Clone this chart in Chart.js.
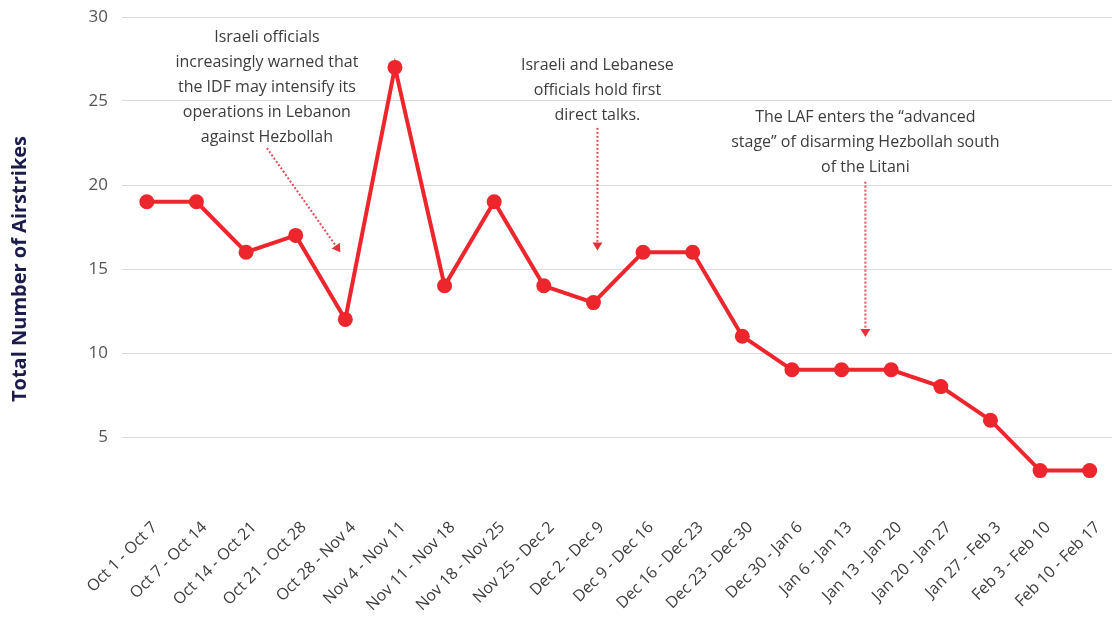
<!DOCTYPE html>
<html>
<head>
<meta charset="utf-8">
<script src="https://cdn.jsdelivr.net/npm/chart.js@4.4.1/dist/chart.umd.min.js"></script>
<style>
  html, body { margin: 0; padding: 0; background: #fff; overflow: hidden; }
  #wrap { position: relative; width: 1122px; height: 617px; }
</style>
</head>
<body>
<div id="wrap"><canvas id="airstrikesChart"></canvas></div>
<script>
// weekly airstrike counts
const weeks = [
  "Oct 1 - Oct 7", "Oct 7 - Oct 14", "Oct 14 - Oct 21", "Oct 21 - Oct 28",
  "Oct 28 - Nov 4", "Nov 4 - Nov 11", "Nov 11 - Nov 18", "Nov 18 - Nov 25",
  "Nov 25 - Dec 2", "Dec 2 - Dec 9", "Dec 9 - Dec 16", "Dec 16 - Dec 23",
  "Dec 23 - Dec 30", "Dec 30 - Jan 6", "Jan 6 - Jan 13", "Jan 13 - Jan 20",
  "Jan 20 - Jan 27", "Jan 27 - Feb 3", "Feb 3 - Feb 10", "Feb 10 - Feb 17"
];
const airstrikes = [19, 19, 16, 17, 12, 27, 14, 19, 14, 13, 16, 16, 11, 9, 9, 9, 8, 6, 3, 3];
const yTicks = [0, 5, 10, 15, 20, 25, 30];

const note1 = ["Israeli officials", "increasingly warned that", "the IDF may intensify its", "operations in Lebanon", "against Hezbollah"];
const note2 = ["Israeli and Lebanese", "officials hold first", "direct talks."];
const note3 = ["The LAF enters the \u201cadvanced", "stage\u201d of disarming Hezbollah south", "of the Litani"];

// where each note sits, in chart units (category index, airstrike count)
const notes = [
  { lines: note1, at: [2.42, 28.8], from: [2.42, 22.2], to: [3.9, 16.0] },
  { lines: note2, at: [9.08, 27.1], from: [9.08, 23.4], to: [9.08, 16.1] },
  { lines: note3, at: [14.48, 24.0], from: [14.48, 20.2], to: [14.48, 10.95] }
];

const red = "rgb(236, 38, 44)";
const textColor = "#3c3c3c";

const notesPlugin = {
  id: "notes",
  afterDatasetsDraw(chart) {
    const ctx = chart.ctx;
    const xs = chart.scales.x;
    const ys = chart.scales.y;
    ctx.save();
    notes.forEach((n) => {
      // text block
      ctx.font = "16px 'Open Sans', sans-serif";
      ctx.fillStyle = textColor;
      ctx.textAlign = "center";
      ctx.textBaseline = "middle";
      const tx = xs.getPixelForValue(n.at[0]);
      const ty = ys.getPixelForValue(n.at[1]);
      n.lines.forEach((line, i) => ctx.fillText(line, tx, ty + i * 25));

      // dotted arrow
      const x1 = xs.getPixelForValue(n.from[0]);
      const y1 = ys.getPixelForValue(n.from[1]);
      const x2 = xs.getPixelForValue(n.to[0]);
      const y2 = ys.getPixelForValue(n.to[1]);
      const ang = Math.atan2(y2 - y1, x2 - x1);
      ctx.strokeStyle = "rgba(220, 60, 70, 0.9)";
      ctx.lineWidth = 2;
      ctx.setLineDash([2, 2]);
      ctx.beginPath();
      ctx.moveTo(x1, y1);
      ctx.lineTo(x2 - 6 * Math.cos(ang), y2 - 6 * Math.sin(ang));
      ctx.stroke();
      ctx.setLineDash([]);
      ctx.fillStyle = "rgb(225, 50, 60)";
      ctx.beginPath();
      ctx.moveTo(x2, y2);
      ctx.lineTo(x2 - 8 * Math.cos(ang) + 5 * Math.sin(ang), y2 - 8 * Math.sin(ang) - 5 * Math.cos(ang));
      ctx.lineTo(x2 - 8 * Math.cos(ang) - 5 * Math.sin(ang), y2 - 8 * Math.sin(ang) + 5 * Math.cos(ang));
      ctx.closePath();
      ctx.fill();
    });
    ctx.restore();
  }
};

new Chart(document.getElementById("airstrikesChart"), {
  type: "line",
  data: {
    labels: weeks,
    datasets: [{
      label: "Total Number of Airstrikes",
      data: airstrikes,
      borderColor: red,
      backgroundColor: red,
      borderWidth: 4,
      pointRadius: 7.5,
      pointHoverRadius: 7.5,
      pointBorderWidth: 0,
      tension: 0
    }]
  },
  plugins: [notesPlugin],
  options: {
    animation: false,
    responsive: true,
    maintainAspectRatio: false,
    layout: { padding: { top: 17, left: 0, right: 0, bottom: 0 } },
    plugins: {
      legend: { display: false },
      tooltip: { enabled: false }
    },
    scales: {
      x: {
        offset: true,
        grid: { display: false },
        border: { display: false },
        ticks: {
          color: textColor,
          font: { family: "'Open Sans', sans-serif", size: 16 },
          maxRotation: 45,
          minRotation: 45,
          autoSkip: false,
          padding: -11,
          labelOffset: 8
        },
        afterFit: (scale) => { scale.height = 96; }
      },
      y: {
        min: 0,
        max: 30,
        afterBuildTicks: (scale) => { scale.ticks = yTicks.map((v) => ({ value: v })); },
        grid: {
          color: (c) => (c.tick && c.tick.value === 0 ? "rgba(0,0,0,0)" : "#d9d9d9"),
          lineWidth: 1,
          drawTicks: false
        },
        border: { display: false },
        ticks: {
          color: "#555",
          padding: 14,
          font: { family: "'Open Sans', sans-serif", size: 17 },
          callback: (v) => (v === 0 ? "" : v)
        },
        title: {
          display: true,
          text: "Total Number of Airstrikes",
          color: "#1c1c4a",
          font: { family: "'Open Sans', sans-serif", size: 20, weight: "bold" },
          padding: { top: 8, bottom: 0 }
        },
        afterFit: (scale) => {
          scale.width = 122;
          scale.paddingTop = 0;
          scale.paddingBottom = 0;
        }
      }
    }
  }
});
</script>
</body>
</html>
